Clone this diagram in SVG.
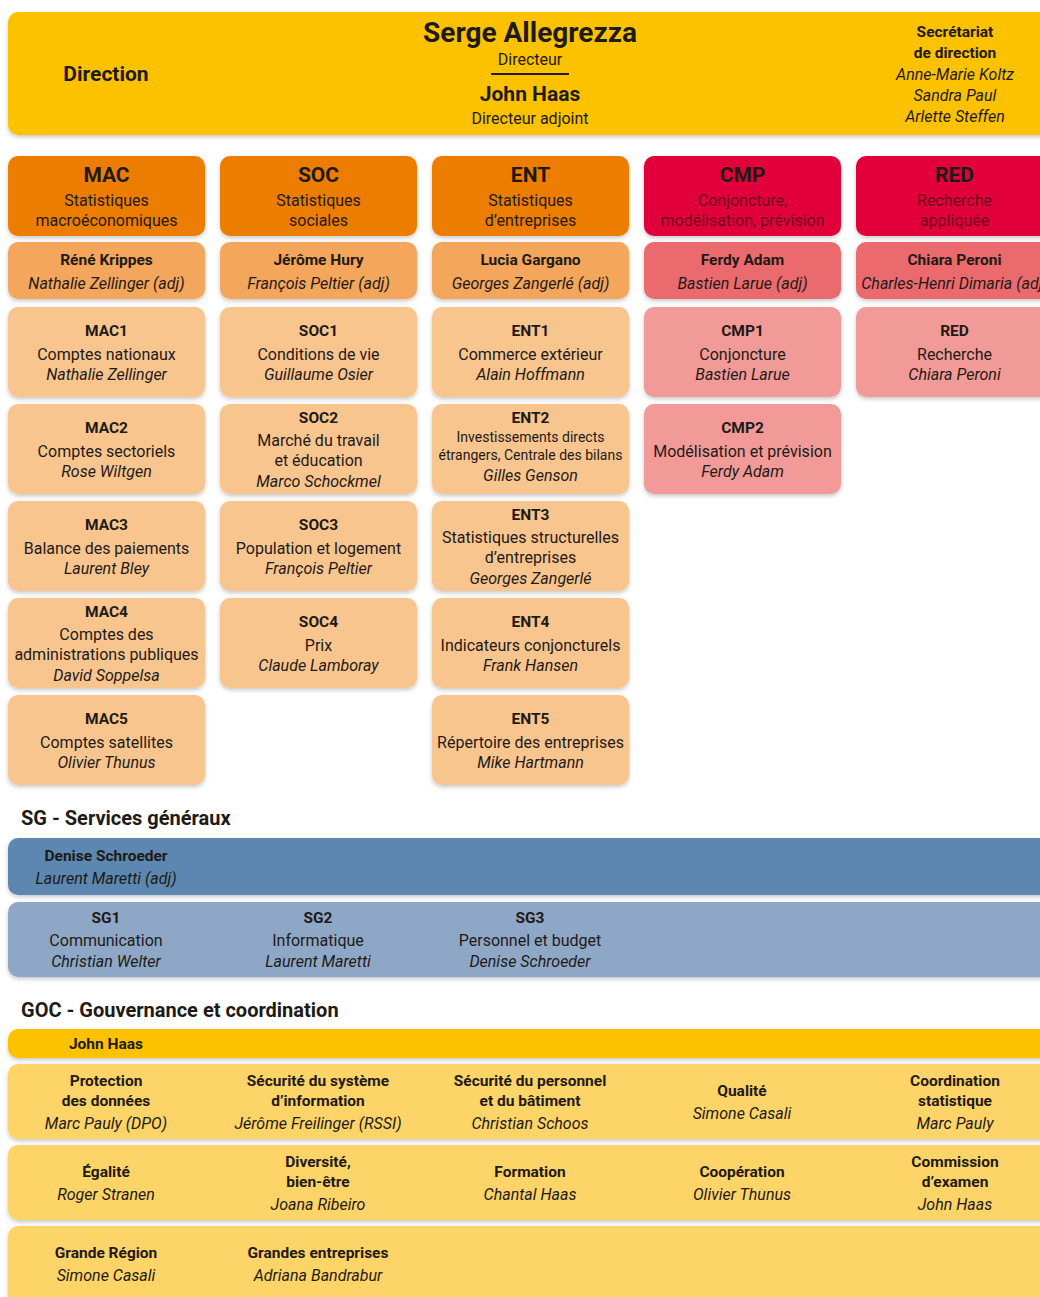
<svg xmlns="http://www.w3.org/2000/svg" width="1040" height="1297" viewBox="0 0 1040 1297">
<defs>
<filter id="sh" x="-5%" y="-10%" width="110%" height="130%">
<feDropShadow dx="0" dy="2" stdDeviation="2" flood-color="#000" flood-opacity="0.22"/>
</filter>
<style>
text{font-family:Roboto,"Liberation Sans",sans-serif;fill:#1e1a16;text-anchor:middle}
.b{font-weight:700}
.i{font-style:italic}
.t{font-size:21px;font-weight:700}
.s{font-size:16px}
.n{font-size:15.5px;font-weight:700}
.sm{font-size:14px}
.h{font-size:20px;font-weight:700;text-anchor:start}
.dir{fill:#FCC200}
.oh{fill:#EC7D05}
.od{fill:#F3A65C}
.ou{fill:#F8C58F}
.rh{fill:#E2003A}
.rd{fill:#EB6B6D}
.ru{fill:#F29A97}
.rt{fill:#6E0A1C}
.bh{fill:#5B87B0}
.bu{fill:#8FA7C6}
.gh{fill:#FCC200}
.gu{fill:#FDD468}
rect{filter:url(#sh)}
</style>
</defs>
<rect width="1040" height="1297" fill="#fff" style="filter:none"/>

<g id="direction">
<rect class="dir" x="8" y="12" width="1050" height="123" rx="10"/>
<text class="b" x="106" y="81" font-size="21">Direction</text>
<text class="b" x="530" y="42" font-size="28">Serge Allegrezza</text>
<text class="s" x="530" y="65" font-size="15">Directeur</text>
<line x1="491" y1="74" x2="569" y2="74" stroke="#1e1a16" stroke-width="2"/>
<text class="b" x="530" y="101" font-size="21">John Haas</text>
<text class="s" x="530" y="124">Directeur adjoint</text>
<text class="n" x="955" y="37">Secrétariat</text>
<text class="n" x="955" y="58">de direction</text>
<text class="s i" x="955" y="80">Anne-Marie Koltz</text>
<text class="s i" x="955" y="101">Sandra Paul</text>
<text class="s i" x="955" y="122">Arlette Steffen</text>
</g>

<g id="connectors"></g>

<!-- MAC column -->
<g id="MAC">
<rect class="oh" x="8" y="156" width="197" height="80" rx="10"/>
<text class="t" x="106.5" y="182">MAC</text>
<text class="s" x="106.5" y="206">Statistiques</text>
<text class="s" x="106.5" y="226">macroéconomiques</text>
</g>
<g id="MAC-dir">
<rect class="od" x="8" y="242" width="197" height="57" rx="10"/>
<text class="n" x="106.5" y="265">Réné Krippes</text>
<text class="s i" x="106.5" y="289">Nathalie Zellinger (adj)</text>
</g>
<g id="MAC1">
<rect class="ou" x="8" y="307" width="197" height="90" rx="10"/>
<text class="n" x="106.5" y="336">MAC1</text>
<text class="s" x="106.5" y="360">Comptes nationaux</text>
<text class="s i" x="106.5" y="380">Nathalie Zellinger</text>
</g>
<g id="MAC2">
<rect class="ou" x="8" y="404" width="197" height="90" rx="10"/>
<text class="n" x="106.5" y="433">MAC2</text>
<text class="s" x="106.5" y="457">Comptes sectoriels</text>
<text class="s i" x="106.5" y="477">Rose Wiltgen</text>
</g>
<g id="MAC3">
<rect class="ou" x="8" y="501" width="197" height="90" rx="10"/>
<text class="n" x="106.5" y="530">MAC3</text>
<text class="s" x="106.5" y="554">Balance des paiements</text>
<text class="s i" x="106.5" y="574">Laurent Bley</text>
</g>
<g id="MAC4">
<rect class="ou" x="8" y="598" width="197" height="90" rx="10"/>
<text class="n" x="106.5" y="617">MAC4</text>
<text class="s" x="106.5" y="640">Comptes des</text>
<text class="s" x="106.5" y="660">administrations publiques</text>
<text class="s i" x="106.5" y="681">David Soppelsa</text>
</g>
<g id="MAC5">
<rect class="ou" x="8" y="695" width="197" height="90" rx="10"/>
<text class="n" x="106.5" y="724">MAC5</text>
<text class="s" x="106.5" y="748">Comptes satellites</text>
<text class="s i" x="106.5" y="768">Olivier Thunus</text>
</g>

<!-- SOC column -->
<g id="SOC">
<rect class="oh" x="220" y="156" width="197" height="80" rx="10"/>
<text class="t" x="318.5" y="182">SOC</text>
<text class="s" x="318.5" y="206">Statistiques</text>
<text class="s" x="318.5" y="226">sociales</text>
</g>
<g id="SOC-dir">
<rect class="od" x="220" y="242" width="197" height="57" rx="10"/>
<text class="n" x="318.5" y="265">Jérôme Hury</text>
<text class="s i" x="318.5" y="289">François Peltier (adj)</text>
</g>
<g id="SOC1">
<rect class="ou" x="220" y="307" width="197" height="90" rx="10"/>
<text class="n" x="318.5" y="336">SOC1</text>
<text class="s" x="318.5" y="360">Conditions de vie</text>
<text class="s i" x="318.5" y="380">Guillaume Osier</text>
</g>
<g id="SOC2">
<rect class="ou" x="220" y="404" width="197" height="90" rx="10"/>
<text class="n" x="318.5" y="423">SOC2</text>
<text class="s" x="318.5" y="446">Marché du travail</text>
<text class="s" x="318.5" y="466">et éducation</text>
<text class="s i" x="318.5" y="487">Marco Schockmel</text>
</g>
<g id="SOC3">
<rect class="ou" x="220" y="501" width="197" height="90" rx="10"/>
<text class="n" x="318.5" y="530">SOC3</text>
<text class="s" x="318.5" y="554">Population et logement</text>
<text class="s i" x="318.5" y="574">François Peltier</text>
</g>
<g id="SOC4">
<rect class="ou" x="220" y="598" width="197" height="90" rx="10"/>
<text class="n" x="318.5" y="627">SOC4</text>
<text class="s" x="318.5" y="651">Prix</text>
<text class="s i" x="318.5" y="671">Claude Lamboray</text>
</g>

<!-- ENT column -->
<g id="ENT">
<rect class="oh" x="432" y="156" width="197" height="80" rx="10"/>
<text class="t" x="530.5" y="182">ENT</text>
<text class="s" x="530.5" y="206">Statistiques</text>
<text class="s" x="530.5" y="226">d’entreprises</text>
</g>
<g id="ENT-dir">
<rect class="od" x="432" y="242" width="197" height="57" rx="10"/>
<text class="n" x="530.5" y="265">Lucia Gargano</text>
<text class="s i" x="530.5" y="289">Georges Zangerlé (adj)</text>
</g>
<g id="ENT1">
<rect class="ou" x="432" y="307" width="197" height="90" rx="10"/>
<text class="n" x="530.5" y="336">ENT1</text>
<text class="s" x="530.5" y="360">Commerce extérieur</text>
<text class="s i" x="530.5" y="380">Alain Hoffmann</text>
</g>
<g id="ENT2">
<rect class="ou" x="432" y="404" width="197" height="90" rx="10"/>
<text class="n" x="530.5" y="423">ENT2</text>
<text class="sm" x="530.5" y="442">Investissements directs</text>
<text class="sm" x="530.5" y="460">étrangers, Centrale des bilans</text>
<text class="s i" x="530.5" y="481">Gilles Genson</text>
</g>
<g id="ENT3">
<rect class="ou" x="432" y="501" width="197" height="90" rx="10"/>
<text class="n" x="530.5" y="520">ENT3</text>
<text class="s" x="530.5" y="543">Statistiques structurelles</text>
<text class="s" x="530.5" y="563">d’entreprises</text>
<text class="s i" x="530.5" y="584">Georges Zangerlé</text>
</g>
<g id="ENT4">
<rect class="ou" x="432" y="598" width="197" height="90" rx="10"/>
<text class="n" x="530.5" y="627">ENT4</text>
<text class="s" x="530.5" y="651">Indicateurs conjoncturels</text>
<text class="s i" x="530.5" y="671">Frank Hansen</text>
</g>
<g id="ENT5">
<rect class="ou" x="432" y="695" width="197" height="90" rx="10"/>
<text class="n" x="530.5" y="724">ENT5</text>
<text class="s" x="530.5" y="748">Répertoire des entreprises</text>
<text class="s i" x="530.5" y="768">Mike Hartmann</text>
</g>

<!-- CMP column -->
<g id="CMP">
<rect class="rh" x="644" y="156" width="197" height="80" rx="10"/>
<text class="t" x="742.5" y="182">CMP</text>
<text class="s rt" x="742.5" y="206">Conjoncture,</text>
<text class="s rt" x="742.5" y="226">modélisation, prévision</text>
</g>
<g id="CMP-dir">
<rect class="rd" x="644" y="242" width="197" height="57" rx="10"/>
<text class="n" x="742.5" y="265">Ferdy Adam</text>
<text class="s i" x="742.5" y="289">Bastien Larue (adj)</text>
</g>
<g id="CMP1">
<rect class="ru" x="644" y="307" width="197" height="90" rx="10"/>
<text class="n" x="742.5" y="336">CMP1</text>
<text class="s" x="742.5" y="360">Conjoncture</text>
<text class="s i" x="742.5" y="380">Bastien Larue</text>
</g>
<g id="CMP2">
<rect class="ru" x="644" y="404" width="197" height="90" rx="10"/>
<text class="n" x="742.5" y="433">CMP2</text>
<text class="s" x="742.5" y="457">Modélisation et prévision</text>
<text class="s i" x="742.5" y="477">Ferdy Adam</text>
</g>

<!-- RED column -->
<g id="RED">
<rect class="rh" x="856" y="156" width="197" height="80" rx="10"/>
<text class="t" x="954.5" y="182">RED</text>
<text class="s rt" x="954.5" y="206">Recherche</text>
<text class="s rt" x="954.5" y="226">appliquée</text>
</g>
<g id="RED-dir">
<rect class="rd" x="856" y="242" width="197" height="57" rx="10"/>
<text class="n" x="954.5" y="265">Chiara Peroni</text>
<text class="s i" x="954.5" y="289">Charles-Henri Dimaria (adj)</text>
</g>
<g id="RED-unit">
<rect class="ru" x="856" y="307" width="197" height="90" rx="10"/>
<text class="n" x="954.5" y="336">RED</text>
<text class="s" x="954.5" y="360">Recherche</text>
<text class="s i" x="954.5" y="380">Chiara Peroni</text>
</g>

<!-- SG -->
<text class="h" x="21" y="825">SG - Services généraux</text>
<g id="SG-head">
<rect class="bh" x="8" y="838" width="1050" height="57" rx="10"/>
<text class="n" x="106" y="861">Denise Schroeder</text>
<text class="s i" x="106" y="884">Laurent Maretti (adj)</text>
</g>
<g id="SG-units">
<rect class="bu" x="8" y="902" width="1050" height="75" rx="10"/>
<g id="SG1">
<text class="n" x="106" y="923">SG1</text>
<text class="s" x="106" y="946">Communication</text>
<text class="s i" x="106" y="967">Christian Welter</text>
</g>
<g id="SG2">
<text class="n" x="318" y="923">SG2</text>
<text class="s" x="318" y="946">Informatique</text>
<text class="s i" x="318" y="967">Laurent Maretti</text>
</g>
<g id="SG3">
<text class="n" x="530" y="923">SG3</text>
<text class="s" x="530" y="946">Personnel et budget</text>
<text class="s i" x="530" y="967">Denise Schroeder</text>
</g>
</g>

<!-- GOC -->
<text class="h" x="21" y="1017">GOC - Gouvernance et coordination</text>
<g id="GOC-head">
<rect class="gh" x="8" y="1029" width="1050" height="29" rx="10"/>
<text class="n" x="106" y="1049">John Haas</text>
</g>
<g id="GOC-row1">
<rect class="gu" x="8" y="1064" width="1050" height="75" rx="10"/>
<g id="GOC-protection">
<text class="n" x="106" y="1086">Protection</text>
<text class="n" x="106" y="1106">des données</text>
<text class="s i" x="106" y="1129">Marc Pauly (DPO)</text>
</g>
<g id="GOC-ssi">
<text class="n" x="318" y="1086">Sécurité du système</text>
<text class="n" x="318" y="1106">d’information</text>
<text class="s i" x="318" y="1129">Jérôme Freilinger (RSSI)</text>
</g>
<g id="GOC-securite">
<text class="n" x="530" y="1086">Sécurité du personnel</text>
<text class="n" x="530" y="1106">et du bâtiment</text>
<text class="s i" x="530" y="1129">Christian Schoos</text>
</g>
<g id="GOC-qualite">
<text class="n" x="742" y="1096">Qualité</text>
<text class="s i" x="742" y="1119">Simone Casali</text>
</g>
<g id="GOC-coord">
<text class="n" x="955" y="1086">Coordination</text>
<text class="n" x="955" y="1106">statistique</text>
<text class="s i" x="955" y="1129">Marc Pauly</text>
</g>
</g>
<g id="GOC-row2">
<rect class="gu" x="8" y="1145" width="1050" height="75" rx="10"/>
<g id="GOC-egalite">
<text class="n" x="106" y="1177">Égalité</text>
<text class="s i" x="106" y="1200">Roger Stranen</text>
</g>
<g id="GOC-diversite">
<text class="n" x="318" y="1167">Diversité,</text>
<text class="n" x="318" y="1187">bien-être</text>
<text class="s i" x="318" y="1210">Joana Ribeiro</text>
</g>
<g id="GOC-formation">
<text class="n" x="530" y="1177">Formation</text>
<text class="s i" x="530" y="1200">Chantal Haas</text>
</g>
<g id="GOC-cooperation">
<text class="n" x="742" y="1177">Coopération</text>
<text class="s i" x="742" y="1200">Olivier Thunus</text>
</g>
<g id="GOC-commission">
<text class="n" x="955" y="1167">Commission</text>
<text class="n" x="955" y="1187">d’examen</text>
<text class="s i" x="955" y="1210">John Haas</text>
</g>
</g>
<g id="GOC-row3">
<rect class="gu" x="8" y="1226" width="1050" height="90" rx="10"/>
<g id="GOC-gr">
<text class="n" x="106" y="1258">Grande Région</text>
<text class="s i" x="106" y="1281">Simone Casali</text>
</g>
<g id="GOC-ge">
<text class="n" x="318" y="1258">Grandes entreprises</text>
<text class="s i" x="318" y="1281">Adriana Bandrabur</text>
</g>
</g>
</svg>
